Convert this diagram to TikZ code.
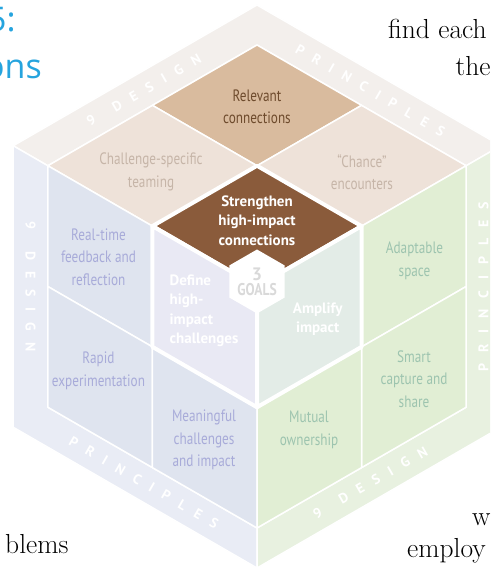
\documentclass[tikz,border=0pt]{standalone}
\usepackage{fontspec}
\usepackage{tikz}
\usetikzlibrary{calc, shapes.geometric}

\newfontfamily\cubefont[FakeStretch=0.8]{PT Sans}
\newfontfamily\goalfont{PT Sans}
\newfontfamily\bandfont[LetterSpace=78]{PT Sans}
\newfontfamily\titlefont{Open Sans}

\definecolor{bandtop}{HTML}{F3EFEC}
\definecolor{bandleft}{HTML}{E9ECF5}
\definecolor{bandright}{HTML}{E8F1E0}
\definecolor{relevant}{HTML}{D9BB9E}
\definecolor{relevanttext}{HTML}{6E4B2D}
\definecolor{topcell}{HTML}{EEE2D9}
\definecolor{toptext}{HTML}{C6B5A8}
\definecolor{strength}{HTML}{8A5B3B}
\definecolor{leftcell}{HTML}{DFE4EF}
\definecolor{lefttext}{HTML}{A8ABD9}
\definecolor{definecell}{HTML}{E9E9F4}
\definecolor{rightcell}{HTML}{E1EED4}
\definecolor{righttext}{HTML}{9DC4AF}
\definecolor{amplifycell}{HTML}{E3ECE7}
\definecolor{goaltext}{HTML}{D9D9D9}
\definecolor{titlecyan}{HTML}{26A4DE}

\begin{document}
\begin{tikzpicture}[x=1pt, y=1pt,
    seam/.style={draw=white, line width=1.5pt, line join=round},
    goalseam/.style={draw=white, line width=4pt, line join=round},
    cell/.style={align=center, inner sep=0pt, font=\cubefont\fontsize{16.5}{22.5}\selectfont},
    goal/.style={align=center, inner sep=0pt, text=white, font=\goalfont\bfseries\fontsize{15}{19.5}\selectfont},
    band/.style={inner sep=0pt, text=white, font=\bandfont\bfseries\fontsize{14}{14}\selectfont},
    prose/.style={anchor=base west, inner sep=0pt, font=\fontsize{27.5}{32}\selectfont},
    title/.style={anchor=base west, inner sep=0pt, text=titlecyan, font=\titlefont\fontsize{34}{34}\selectfont}]

\useasboundingbox (0,0) rectangle (490,569);
\clip (0,0) rectangle (490,569);

% corners of the cube (i) and of the frame round it (o)
\coordinate (C) at (257,282.5);
\foreach \a/\n in {90/t, 150/ul, 210/dl, 270/b, 330/dr, 30/ur} {
    \coordinate (i\n) at ($(C)+(\a:241.5)$);
    \coordinate (o\n) at ($(C)+(\a:281.5)$);
}
\coordinate (mtl) at ($(iul)!0.5!(it)$);
\coordinate (mtr) at ($(it)!0.5!(iur)$);
\coordinate (ml)  at ($(iul)!0.5!(idl)$);
\coordinate (mbl) at ($(idl)!0.5!(ib)$);
\coordinate (mbr) at ($(ib)!0.5!(idr)$);
\coordinate (mr)  at ($(idr)!0.5!(iur)$);
\coordinate (hl)  at ($(C)!0.5!(iul)$);
\coordinate (hr)  at ($(C)!0.5!(iur)$);
\coordinate (hb)  at ($(C)!0.5!(ib)$);
\coordinate (ft)  at ($(C)!0.5!(it)$);
\coordinate (fl)  at ($(C)!0.5!(idl)$);
\coordinate (fr)  at ($(C)!0.5!(idr)$);

% frame
\path[fill=bandtop, seam]   (oul) -- (ot) -- (our) -- (iur) -- (it) -- (iul) -- cycle;
\path[fill=bandleft, seam]  (oul) -- (odl) -- (ob) -- (ib) -- (idl) -- (iul) -- cycle;
\path[fill=bandright, seam] (our) -- (odr) -- (ob) -- (ib) -- (idr) -- (iur) -- cycle;
\foreach \a/\r/\txt in {120/30/9\hspace{7pt} DESIGN, 60/-30/PRINCIPLES, 180/-90/9\hspace{7pt} DESIGN,
                        240/-30/PRINCIPLES, 0/90/PRINCIPLES, 300/30/9\hspace{7pt} DESIGN}
    \node[band, rotate=\r] at ($(C)+(\a:226.5)$) {\txt};

% top face
\path[fill=relevant, seam] (it) -- (mtr) -- (ft) -- (mtl) -- cycle;
\path[fill=topcell, seam]  (iul) -- (mtl) -- (ft) -- (hl) -- cycle;
\path[fill=topcell, seam]  (mtr) -- (iur) -- (hr) -- (ft) -- cycle;
% left face
\path[fill=leftcell, seam] (iul) -- (ml) -- (fl) -- (hl) -- cycle;
\path[fill=leftcell, seam] (ml) -- (idl) -- (mbl) -- (fl) -- cycle;
\path[fill=leftcell, seam] (fl) -- (mbl) -- (ib) -- (hb) -- cycle;
% right face
\path[fill=rightcell, seam] (hr) -- (iur) -- (mr) -- (fr) -- cycle;
\path[fill=rightcell, seam] (fr) -- (mr) -- (idr) -- (mbr) -- cycle;
\path[fill=rightcell, seam] (hb) -- (fr) -- (mbr) -- (ib) -- cycle;
% the three goals
\path[fill=strength, goalseam]    (C) -- (hl) -- (ft) -- (hr) -- cycle;
\path[fill=definecell, goalseam]  (C) -- (hl) -- (fl) -- (hb) -- cycle;
\path[fill=amplifycell, goalseam] (C) -- (hr) -- (fr) -- (hb) -- cycle;
\node[regular polygon, regular polygon sides=6, shape border rotate=30,
      minimum size=64pt, inner sep=0pt, fill=white] (goals) at (257,287.5) {};
\node[text=goaltext, font=\goalfont\bfseries\fontsize{18}{18}\selectfont] (three) at (257,295) {3};
\node[text=goaltext, font=\cubefont\bfseries\fontsize{17}{17}\selectfont] (goalword) at (257,279) {GOALS};

\node[cell, text=relevanttext] (relevant)   at (257,462)   {Relevant\\connections};
\node[cell, text=toptext]      (teaming)    at (151,397)   {Challenge-specific\\teaming};
\node[cell, text=toptext]      (chance)     at (362,397)   {“Chance”\\encounters};
\node[goal]                    (strengthen) at (257,348.5) {Strengthen\\high-impact\\connections};
\node[cell, text=lefttext]     (feedback)   at (98.5,312)  {Real-time\\feedback and\\reflection};
\node[goal, align=left]        (define)     at (204,258)   {Define\\high-\\impact\\challenges};
\node[cell, text=lefttext]     (rapid)      at (98.5,198)  {Rapid\\experimentation};
\node[cell, text=lefttext]     (meaningful) at (204,129)   {Meaningful\\challenges\\and impact};
\node[goal]                    (amplify)    at (317.7,250) {Amplify\\impact};
\node[cell, text=righttext]    (adaptable)  at (414.5,308) {Adaptable\\space};
\node[cell, text=righttext]    (smart)      at (414,190)   {Smart\\capture and\\share};
\node[cell, text=righttext]    (mutual)     at (309,139)   {Mutual\\ownership};

% bits of the page round the figure
\node[title] (figno) at (-13,537) {5:};
\node[title] (head)  at (-16,490) {ons};
\node[prose] (line1) at (388,530)   {find each};
\node[prose] (line2) at (455.5,493) {the};
\node[prose] (line3) at (5,16)      {blems};
\node[prose] (line4) at (472,43)    {w};
\node[prose] (line5) at (407,12)    {employ};
\end{tikzpicture}
\end{document}
